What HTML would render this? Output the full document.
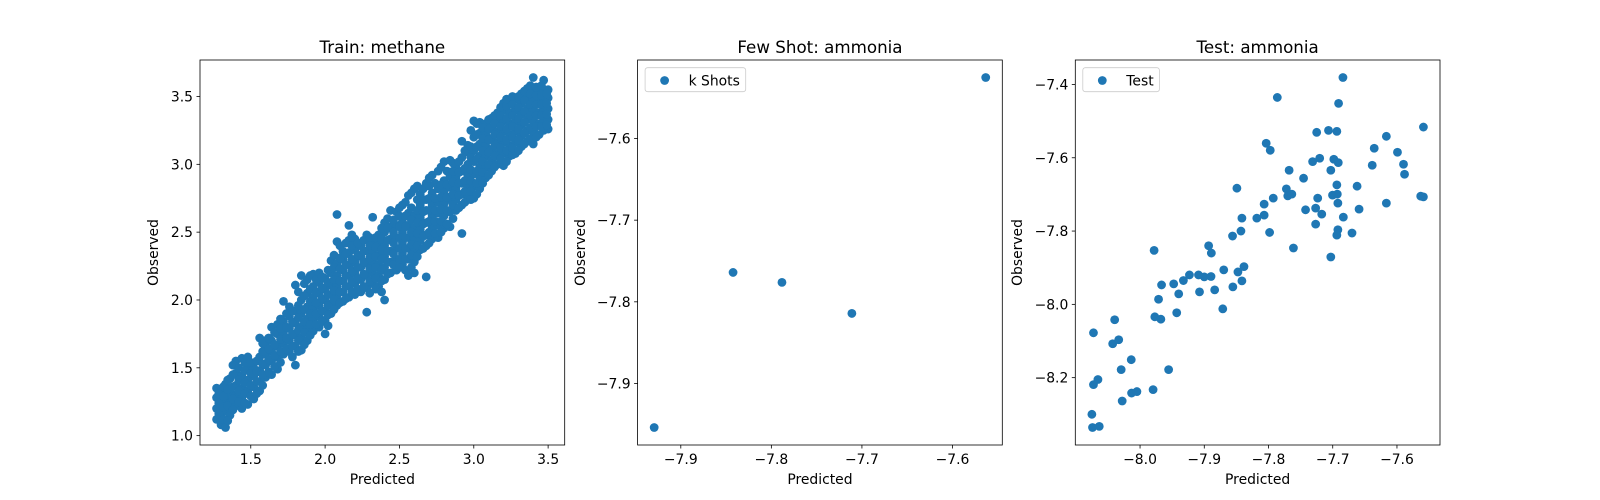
<!DOCTYPE html>
<html>
<head>
<meta charset="utf-8">
<style>
  html,body{margin:0;padding:0;background:#fff;}
  svg{display:block;font-family:"DejaVu Sans","Liberation Sans",sans-serif;}
</style>
</head>
<body>
<svg id="fig" width="1600" height="500" viewBox="0 0 1600 500" xmlns="http://www.w3.org/2000/svg">
  <rect x="0" y="0" width="1600" height="500" fill="#ffffff"/>
</svg>
<script>
// ---------- Panel 1: Train methane (grouped by predicted value strips) ----------
const trainPredGroups = [1.27,1.30,1.33,1.36,1.40,1.44,1.48,1.52,1.56,1.60,1.64,1.68,1.72,1.76,1.80,1.84,1.88,1.92,1.96,2.00,2.04,2.08,2.12,2.16,2.20,2.24,2.28,2.32,2.36,2.40,2.44,2.48,2.52,2.56,2.60,2.64,2.68,2.72,2.76,2.80,2.84,2.88,2.92,2.96,3.00,3.04,3.08,3.12,3.16,3.20,3.24,3.28,3.32,3.36,3.40,3.44,3.47,3.50];
const trainObsGroups = [
 [1.12,1.20,1.28,1.35],
 [1.08,1.16,1.25,1.33],
 [1.06,1.18,1.27,1.38,1.30],
 [1.15,1.24,1.32,1.42],
 [1.22,1.30,1.37,1.46,1.55],
 [1.20,1.28,1.35,1.44,1.57],
 [1.23,1.33,1.41,1.50,1.58],
 [1.27,1.36,1.44,1.50],
 [1.33,1.40,1.48,1.58,1.72],
 [1.43,1.52,1.60,1.66,1.70],
 [1.45,1.55,1.62,1.70,1.80],
 [1.49,1.58,1.66,1.75,1.82],
 [1.60,1.68,1.75,1.84,1.99],
 [1.62,1.70,1.79,1.88,1.95],
 [1.52,1.66,1.74,1.83,1.92,2.11],
 [1.63,1.72,1.80,1.90,2.00,2.18],
 [1.70,1.79,1.86,1.95,2.05,2.15],
 [1.77,1.86,1.94,2.02,2.10,2.19],
 [1.80,1.88,1.96,2.05,2.13,2.20],
 [1.75,1.85,1.92,2.00,2.08,2.16],
 [1.90,1.97,2.04,2.11,2.20,2.29],
 [1.96,2.03,2.10,2.18,2.27,2.63,2.43],
 [1.99,2.06,2.14,2.22,2.30,2.36],
 [2.02,2.10,2.18,2.26,2.35,2.44,2.55],
 [2.04,2.12,2.20,2.28,2.37,2.45],
 [2.06,2.15,2.24,2.32,2.40],
 [1.91,2.09,2.18,2.27,2.36,2.44,2.48],
 [2.12,2.20,2.28,2.35,2.43,2.61],
 [2.10,2.18,2.26,2.33,2.41,2.48],
 [2.00,2.15,2.24,2.32,2.40,2.50,2.57],
 [2.20,2.28,2.36,2.45,2.54,2.66],
 [2.22,2.30,2.38,2.46,2.55,2.65],
 [2.26,2.34,2.42,2.50,2.58,2.70],
 [2.18,2.30,2.38,2.46,2.55,2.64,2.77],
 [2.20,2.28,2.36,2.45,2.53,2.62,2.82],
 [2.37,2.44,2.52,2.61,2.70,2.78],
 [2.17,2.40,2.48,2.57,2.66,2.74,2.86],
 [2.45,2.53,2.62,2.70,2.79,2.92],
 [2.46,2.55,2.64,2.72,2.82,2.95],
 [2.53,2.62,2.71,2.80,2.88,3.02],
 [2.54,2.65,2.74,2.83,2.91,3.03],
 [2.66,2.74,2.82,2.90,2.98],
 [2.49,2.70,2.78,2.86,2.95,3.05,3.17],
 [2.76,2.84,2.92,3.00,3.09,3.14],
 [2.75,2.84,2.93,3.02,3.10,3.20,3.32],
 [2.82,2.90,2.98,3.06,3.15,3.23,3.31],
 [2.90,2.98,3.06,3.14,3.22,3.30],
 [2.95,3.03,3.11,3.19,3.27,3.34],
 [3.00,3.08,3.16,3.24,3.32,3.38],
 [2.99,3.08,3.16,3.24,3.32,3.40,3.45],
 [3.06,3.14,3.22,3.30,3.38,3.46],
 [3.08,3.16,3.24,3.32,3.40,3.48],
 [3.13,3.21,3.29,3.37,3.45,3.52],
 [3.17,3.25,3.33,3.41,3.49,3.56],
 [3.15,3.24,3.32,3.40,3.48,3.55,3.64],
 [3.22,3.30,3.38,3.46,3.53],
 [3.25,3.32,3.40,3.48,3.55,3.62],
 [3.26,3.33,3.41,3.49,3.55]
];
const trainPredGroups2 = [1.285,1.315,1.345,1.38,1.42,1.46,1.50,1.54,1.58,1.62,1.66,1.70,1.74,1.78,1.82,1.86,1.90,1.94,1.98,2.02,2.06,2.10,2.14,2.18,2.22,2.26,2.30,2.34,2.38,2.42,2.46,2.50,2.54,2.58,2.62,2.66,2.70,2.74,2.78,2.82,2.86,2.90,2.94,2.98,3.02,3.06,3.10,3.14,3.18,3.22,3.26,3.30,3.34,3.38,3.42,3.455,3.49];
const trainObsGroups2 = [
 [1.16,1.24,1.31],
 [1.12,1.21,1.29,1.36],
 [1.11,1.22,1.34,1.41],
 [1.19,1.27,1.36,1.45,1.52],
 [1.25,1.33,1.41,1.50],
 [1.24,1.31,1.39,1.48,1.54],
 [1.29,1.37,1.46,1.54],
 [1.31,1.40,1.47,1.55],
 [1.37,1.45,1.53,1.62,1.68],
 [1.47,1.56,1.64,1.72],
 [1.51,1.59,1.67,1.76],
 [1.54,1.62,1.71,1.79,1.86],
 [1.64,1.72,1.80,1.90],
 [1.58,1.66,1.75,1.84,1.92],
 [1.62,1.70,1.78,1.87,1.96,2.06],
 [1.67,1.76,1.84,1.93,2.03,2.12],
 [1.74,1.82,1.90,1.99,2.08,2.18],
 [1.82,1.90,1.98,2.06,2.15],
 [1.84,1.92,2.01,2.09,2.17],
 [1.81,1.89,1.96,2.04,2.13,2.22],
 [1.93,2.00,2.07,2.15,2.24,2.33],
 [1.98,2.06,2.14,2.23,2.31,2.40],
 [2.01,2.10,2.18,2.26,2.34,2.42],
 [2.06,2.14,2.22,2.30,2.40,2.48],
 [2.08,2.16,2.24,2.33,2.42],
 [2.10,2.19,2.28,2.36,2.44],
 [2.05,2.14,2.23,2.31,2.40,2.46],
 [2.08,2.16,2.24,2.32,2.39,2.46],
 [2.06,2.14,2.22,2.30,2.37,2.45,2.53],
 [2.19,2.28,2.36,2.44,2.53,2.60],
 [2.26,2.34,2.42,2.50,2.59],
 [2.24,2.30,2.38,2.46,2.54,2.62,2.68],
 [2.22,2.30,2.38,2.46,2.54,2.62,2.72],
 [2.24,2.33,2.41,2.50,2.59,2.68,2.79],
 [2.32,2.40,2.49,2.57,2.66,2.74,2.84],
 [2.38,2.47,2.56,2.65,2.74,2.82],
 [2.42,2.50,2.58,2.66,2.75,2.84,2.90],
 [2.49,2.58,2.66,2.75,2.86],
 [2.50,2.58,2.67,2.76,2.85,2.98],
 [2.56,2.66,2.76,2.85,2.95],
 [2.60,2.70,2.78,2.87,2.95,3.01],
 [2.68,2.77,2.86,2.94,3.02],
 [2.72,2.80,2.88,2.97,3.10],
 [2.74,2.80,2.88,2.96,3.05,3.13,3.25],
 [2.78,2.86,2.95,3.04,3.13,3.22,3.30],
 [2.86,2.94,3.02,3.10,3.19,3.27],
 [2.92,3.00,3.09,3.18,3.26,3.33],
 [2.98,3.06,3.14,3.22,3.30,3.36],
 [3.04,3.12,3.20,3.28,3.36,3.42],
 [3.02,3.10,3.18,3.26,3.34,3.43,3.48],
 [3.07,3.12,3.20,3.28,3.36,3.44,3.50],
 [3.10,3.18,3.26,3.34,3.42,3.50],
 [3.15,3.23,3.31,3.39,3.47,3.54],
 [3.19,3.27,3.36,3.44,3.52,3.58],
 [3.20,3.28,3.36,3.44,3.51,3.57],
 [3.28,3.36,3.44,3.51,3.58],
 [3.29,3.37,3.45,3.52]
];
const trainXTicks = [1.5,2.0,2.5,3.0,3.5];
const trainXTickLabels = ["1.5","2.0","2.5","3.0","3.5"];
const trainYTicks = [1.0,1.5,2.0,2.5,3.0,3.5];
const trainYTickLabels = ["1.0","1.5","2.0","2.5","3.0","3.5"];

// ---------- Panel 2: Few shot ammonia ----------
const shotPred = [-7.9294,-7.8423,-7.7883,-7.7111,-7.5633];
const shotObs  = [-7.9539,-7.7640,-7.7762,-7.8142,-7.5253];
const shotXTicks = [-7.9,-7.8,-7.7,-7.6];
const shotXTickLabels = ["\u22127.9","\u22127.8","\u22127.7","\u22127.6"];
const shotYTicks = [-7.6,-7.7,-7.8,-7.9];
const shotYTickLabels = ["\u22127.6","\u22127.7","\u22127.8","\u22127.9"];

// ---------- Panel 3: Test ammonia ----------
const testPred = [-8.0725,-8.075,-8.074,-8.0635,-8.0725,-8.0656,-8.0395,-8.0426,-8.0332,-8.0294,-8.0278,-8.0137,-8.0132,-8.0049,-7.9797,-7.9781,-7.9712,-7.977,-7.9676,-7.9665,-7.9555,-7.9476,-7.9429,-7.9398,-7.9325,-7.9231,-7.909,-7.9074,-7.900,-7.8932,-7.889,-7.8895,-7.8838,-7.8712,-7.8697,-7.8555,-7.8476,-7.8414,-7.8382,-7.856,-7.8429,-7.8414,-7.8492,-7.8182,-7.8068,-7.8068,-7.7983,-7.7926,-7.8036,-7.7973,-7.7863,-7.7722,-7.77,-7.7637,-7.7679,-7.7612,-7.7454,-7.7423,-7.7313,-7.7203,-7.725,-7.7266,-7.7234,-7.7171,-7.7266,-7.7066,-7.6936,-7.6841,-7.6909,-7.6983,-7.6914,-7.703,-7.6936,-7.7003,-7.6929,-7.692,-7.6835,-7.692,-7.6936,-7.703,-7.67,-7.6621,-7.659,-7.6385,-7.6354,-7.6165,-7.5992,-7.5898,-7.5882,-7.6165,-7.563,-7.5588,-7.5588];
const testObs = [-8.0776,-8.300,-8.336,-8.333,-8.219,-8.205,-8.042,-8.1075,-8.0966,-8.178,-8.2637,-8.151,-8.242,-8.238,-8.2327,-7.8528,-7.986,-8.034,-8.0405,-7.947,-8.178,-7.944,-8.023,-7.9714,-7.935,-7.9197,-7.9197,-7.966,-7.925,-7.84,-7.86,-7.924,-7.9605,-8.0122,-7.906,-7.9524,-7.9116,-7.936,-7.897,-7.8136,-7.8,-7.7646,-7.683,-7.7646,-7.7565,-7.7265,-7.8038,-7.7102,-7.5605,-7.5796,-7.4354,-7.6849,-7.704,-7.6993,-7.634,-7.8463,-7.6558,-7.742,-7.6106,-7.6014,-7.5306,-7.7374,-7.7102,-7.7537,-7.781,-7.5252,-7.5279,-7.381,-7.4517,-7.6041,-7.6133,-7.634,-7.674,-7.702,-7.6993,-7.7238,-7.762,-7.7965,-7.811,-7.8707,-7.8054,-7.6776,-7.7401,-7.6204,-7.5741,-7.5415,-7.585,-7.6177,-7.6449,-7.7238,-7.7048,-7.7067,-7.5162];
const testXTicks = [-8.0,-7.9,-7.8,-7.7,-7.6];
const testXTickLabels = ["\u22128.0","\u22127.9","\u22127.8","\u22127.7","\u22127.6"];
const testYTicks = [-7.4,-7.6,-7.8,-8.0,-8.2];
const testYTickLabels = ["\u22127.4","\u22127.6","\u22127.8","\u22128.0","\u22128.2"];

const NS = "http://www.w3.org/2000/svg";
const svg = document.getElementById("fig");
const COLOR = "#1f77b4";
const AX_TOP = 60, AX_BOT = 445, AX_W = 364.7;
const DOT_R = 4.4;

function mk(tag, attrs, parent){
  const e = document.createElementNS(NS, tag);
  for (const k in attrs) e.setAttribute(k, attrs[k]);
  (parent||svg).appendChild(e);
  return e;
}
function limits(vals){
  let mn = Math.min.apply(null, vals), mx = Math.max.apply(null, vals);
  const r = mx - mn;
  return [mn - 0.05*r, mx + 0.05*r];
}
function makeScale(d0, d1, r0, r1){
  return v => r0 + (v - d0) / (d1 - d0) * (r1 - r0);
}

function drawPanel(cfg){
  const left = cfg.left, right = left + AX_W;
  const g = mk("g", {});
  
  
  const xl = limits(cfg.xs), yl = limits(cfg.ys);
  const sx = makeScale(xl[0], xl[1], left, right);
  const sy = makeScale(yl[0], yl[1], AX_BOT, AX_TOP);

  const clipId = cfg.name + "-clip";
  const cp = mk("clipPath", {id: clipId}, g);
  mk("rect", {x:left, y:AX_TOP, width:AX_W, height:AX_BOT-AX_TOP}, cp);

  const pts = mk("g", {"clip-path":"url(#"+clipId+")"}, g);
  
  
  for (let i = 0; i < Math.min(cfg.xs.length, cfg.ys.length); i++){
    const c = mk("circle", {cx: sx(cfg.xs[i]).toFixed(2), cy: sy(cfg.ys[i]).toFixed(2), r: DOT_R, fill: COLOR}, pts);
    
    
  }

  const frame = mk("rect", {x:left, y:AX_TOP, width:AX_W, height:AX_BOT-AX_TOP, fill:"none", stroke:"#000", "stroke-width":0.8}, g);
  
  

  cfg.xt.forEach((v, i) => {
    const x = sx(v);
    const t = mk("line", {x1:x, x2:x, y1:AX_BOT, y2:AX_BOT+3.5, stroke:"#000", "stroke-width":0.8}, g);
    
    
    const lb = mk("text", {x:x, y:AX_BOT+19, "font-size":"13.9px", "text-anchor":"middle", fill:"#000"}, g);
    lb.textContent = cfg.xtl[i];
    
    
  });
  cfg.yt.forEach((v, i) => {
    const y = sy(v);
    const t = mk("line", {x1:left-3.5, x2:left, y1:y, y2:y, stroke:"#000", "stroke-width":0.8}, g);
    
    
    const lb = mk("text", {x:left-7, y:y+5, "font-size":"13.9px", "text-anchor":"end", fill:"#000"}, g);
    lb.textContent = cfg.ytl[i];
    
    
  });

  const title = mk("text", {x:left+AX_W/2, y:AX_TOP-7, "font-size":"16.7px", "text-anchor":"middle", fill:"#000"}, g);
  title.textContent = cfg.title;
  
  

  const xlab = mk("text", {x:left+AX_W/2, y:484, "font-size":"13.9px", "text-anchor":"middle", fill:"#000"}, g);
  xlab.textContent = "Predicted";
  
  

  const yx = cfg.ylabX, yy = (AX_TOP+AX_BOT)/2;
  const ylab = mk("text", {x:yx, y:yy, "font-size":"13.9px", "text-anchor":"middle", fill:"#000", transform:"rotate(-90 "+yx+" "+yy+")"}, g);
  ylab.textContent = "Observed";
  
  

  if (cfg.legend){
    const lg = mk("g", {}, g);
    
    
    const bx = left + 7.5;
    const box = mk("rect", {x:bx, y:67.7, width:cfg.legendW, height:24, rx:2.5, fill:"#fff", "fill-opacity":0.8, stroke:"#cccccc", "stroke-width":0.8}, lg);
    
    
    const m = mk("circle", {cx:bx+19.5, cy:80.5, r:DOT_R, fill:COLOR}, lg);
    
    
    const lt = mk("text", {x:bx+43.5, y:85.5, "font-size":"13.9px", fill:"#000"}, lg);
    lt.textContent = cfg.legend;
    
    
  }
}

const trainX = [], trainY = [];
trainPredGroups.forEach((p, i) => {
  (trainObsGroups[i] || []).forEach(o => { trainX.push(p); trainY.push(o); });
});
trainPredGroups2.forEach((p, i) => {
  (trainObsGroups2[i] || []).forEach(o => { trainX.push(p); trainY.push(o); });
});

drawPanel({name:"train-panel", left:200, xs:trainX, ys:trainY, xt:trainXTicks, xtl:trainXTickLabels, yt:trainYTicks, ytl:trainYTickLabels, title:"Train: methane", ylabX:158});
drawPanel({name:"few-shot-panel", left:637.6, xs:shotPred, ys:shotObs, xt:shotXTicks, xtl:shotXTickLabels, yt:shotYTicks, ytl:shotYTickLabels, title:"Few Shot: ammonia", ylabX:585, legend:"k Shots", legendW:100.6});
drawPanel({name:"test-panel", left:1075.3, xs:testPred, ys:testObs, xt:testXTicks, xtl:testXTickLabels, yt:testYTicks, ytl:testYTickLabels, title:"Test: ammonia", ylabX:1022, legend:"Test", legendW:76.6});
</script>
</body>
</html>
